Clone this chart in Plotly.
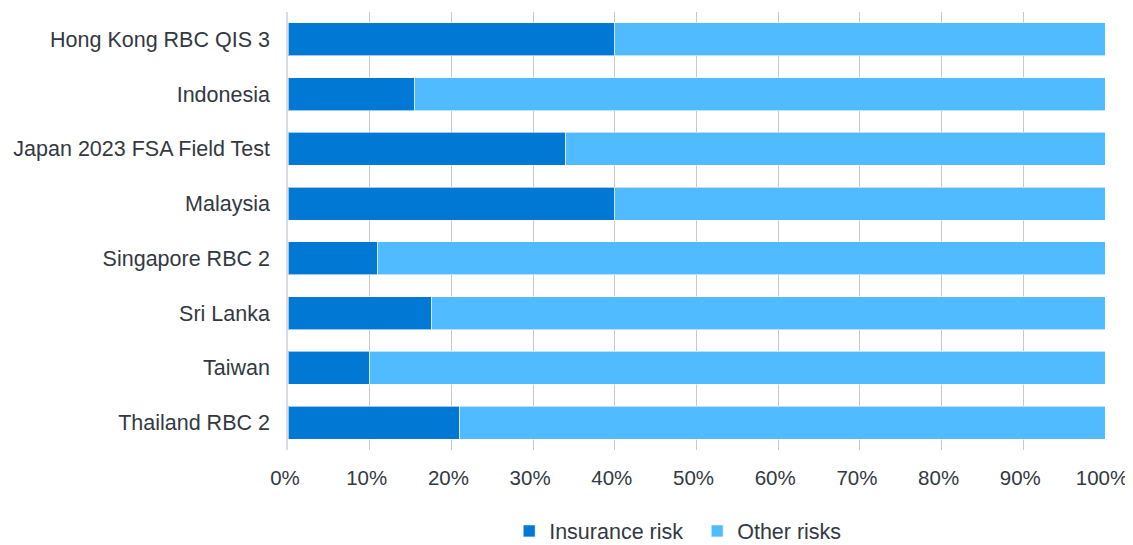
import plotly.graph_objects as go

categories = ["Hong Kong RBC QIS 3", "Indonesia", "Japan 2023 FSA Field Test", "Malaysia",
              "Singapore RBC 2", "Sri Lanka", "Taiwan", "Thailand RBC 2"]
insurance_risk = [0.40, 0.155, 0.34, 0.40, 0.11, 0.176, 0.10, 0.21]
other_risks = [round(1 - v, 4) for v in insurance_risk]
tick_vals = [i / 10 for i in range(11)]
tick_text = [f"{i*10}%" for i in range(11)]

fig = go.Figure()
fig.add_trace(go.Bar(y=categories, x=insurance_risk, orientation="h", name="Insurance risk",
                     marker=dict(color="#0078D4", line=dict(color="rgba(255,255,255,0.6)", width=1))))
fig.add_trace(go.Bar(y=categories, x=other_risks, orientation="h", name="Other risks",
                     marker=dict(color="#50BCFF", line=dict(color="rgba(255,255,255,0.6)", width=1))))

fig.update_layout(
    barmode="stack", bargap=0.4,
    width=1125, height=537,
    margin=dict(l=280, r=28, t=4, b=95, autoexpand=False),
    paper_bgcolor="white", plot_bgcolor="white",
    font=dict(family="Liberation Sans, Arial, sans-serif", size=21.5, color="#333942"),
    legend=dict(orientation="h", x=0.4455, xanchor="left", xref="container", y=-0.138, yanchor="top",
                yref="paper", font=dict(size=21.5), traceorder="normal",
                itemwidth=30, entrywidth=143, entrywidthmode="pixels"),
    xaxis=dict(range=[0, 1], tickvals=tick_vals, ticktext=tick_text, showgrid=True,
               gridcolor="#c8c8c8", gridwidth=1, zeroline=False, showline=False, ticks="",
               ticklabelstandoff=13, ticklabelshift=-3, tickfont=dict(size=20.5),
               automargin=False),
    yaxis=dict(autorange="reversed", showline=True, linecolor="#d9dde3", linewidth=1.5,
               ticks="", ticklabelstandoff=12, showgrid=False, automargin=False),
)
fig.write_html("out.html")
